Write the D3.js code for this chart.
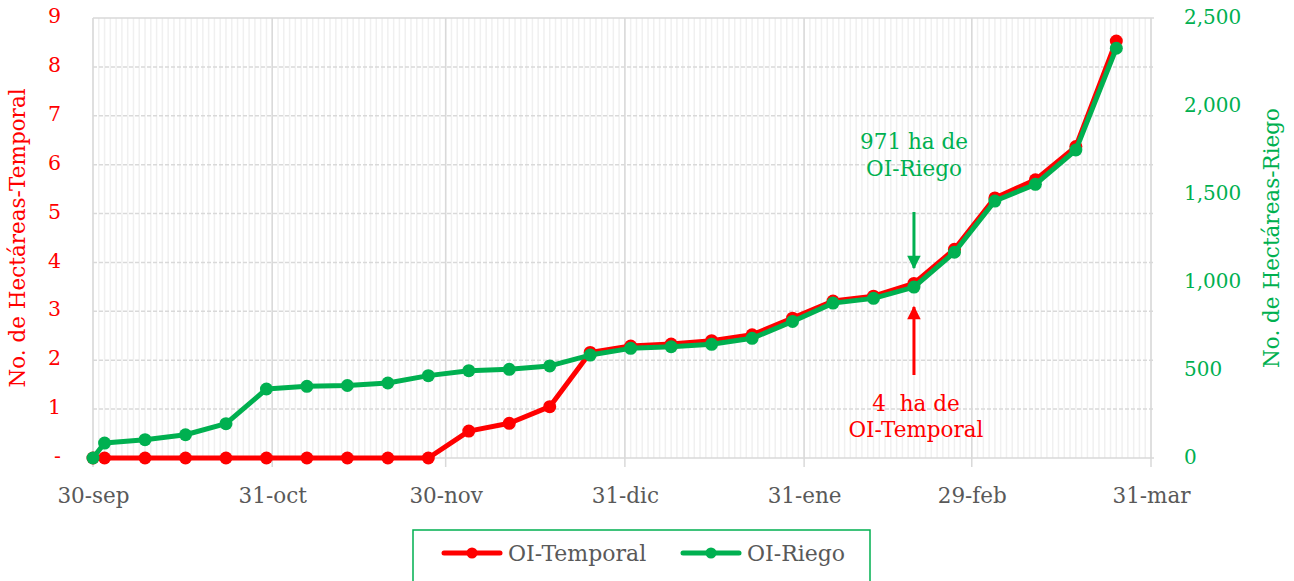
<!DOCTYPE html>
<html>
<head>
<meta charset="utf-8">
<script src="https://cdn.jsdelivr.net/npm/d3@7"></script>
<style>
  body { margin: 0; background: #fff; }
  svg { display: block; font-family: "DejaVu Serif", serif; }
</style>
</head>
<body>
<div id="chart"></div>
<script>
const svgWidth = 1294;
const svgHeight = 581;
const margin = { top: 18, right: 143, bottom: 123, left: 93 };

// weekly report dates
const dates = [
  "2023-09-30", "2023-10-02", "2023-10-09", "2023-10-16", "2023-10-23", "2023-10-30",
  "2023-11-06", "2023-11-13", "2023-11-20", "2023-11-27", "2023-12-04", "2023-12-11",
  "2023-12-18", "2023-12-25", "2024-01-01", "2024-01-08", "2024-01-15", "2024-01-22",
  "2024-01-29", "2024-02-05", "2024-02-12", "2024-02-19", "2024-02-26", "2024-03-04",
  "2024-03-11", "2024-03-18", "2024-03-25"
];
const temporal = [
  0, 0, 0, 0, 0, 0, 0, 0, 0, 0, 0.55, 0.71, 1.05, 2.16, 2.29, 2.33, 2.40, 2.52,
  2.86, 3.21, 3.31, 3.57, 4.27, 5.32, 5.69, 6.37, 8.53
];
const riego = [
  0, 85, 104, 132, 195, 392, 407, 412, 426, 468, 496, 504, 523, 585, 623, 632, 646, 680,
  776, 880, 907, 971, 1169, 1460, 1555, 1750, 2328
];
const monthTicks = ["2023-09-30", "2023-10-31", "2023-11-30", "2023-12-31", "2024-01-31", "2024-02-29", "2024-03-31"];
const monthLabels = ["30-sep", "31-oct", "30-nov", "31-dic", "31-ene", "29-feb", "31-mar"];
const leftTicks = [0, 1, 2, 3, 4, 5, 6, 7, 8, 9];
const rightTicks = [0, 500, 1000, 1500, 2000, 2500];

const RED = "#FF0000";
const GREEN = "#00B050";
const GRAY_TEXT = "#595959";
const parse = d3.timeParse("%Y-%m-%d");

const svg = d3.select("#chart")
  .append("svg")
  .attr("width", svgWidth)
  .attr("height", svgHeight);

const x = d3.scaleTime()
  .domain([parse("2023-09-30"), parse("2024-03-31")])
  .range([margin.left, svgWidth - margin.right]);

const yL = d3.scaleLinear().domain([0, 9]).range([svgHeight - margin.bottom, margin.top]);
const yR = d3.scaleLinear().domain([0, 2500]).range([svgHeight - margin.bottom, margin.top]);

const plotBottom = yL(0);
const plotTop = yL(9);

// minor daily gridlines
const days = d3.timeDay.range(parse("2023-09-30"), d3.timeDay.offset(parse("2024-03-31"), 1));
svg.append("g")
  .selectAll("line")
  .data(days)
  .join("line")
  .attr("x1", d => x(d)).attr("x2", d => x(d))
  .attr("y1", plotTop).attr("y2", plotBottom)
  .attr("stroke", "#F0F0F0")
  .attr("stroke-width", 1.5);

// horizontal gridlines
svg.append("g")
  .selectAll("line")
  .data(leftTicks)
  .join("line")
  .attr("x1", x.range()[0]).attr("x2", x.range()[1] + 3)
  .attr("y1", d => yL(d)).attr("y2", d => yL(d))
  .attr("stroke", "#D9D9D9")
  .attr("stroke-width", 1.5)
  .attr("stroke-dasharray", d => (d === 0 || d === 9) ? null : "4,2");

// major month gridlines + ticks
svg.append("g")
  .selectAll("line")
  .data(monthTicks.map(parse))
  .join("line")
  .attr("x1", d => x(d)).attr("x2", d => x(d))
  .attr("y1", plotTop).attr("y2", plotBottom + 9)
  .attr("stroke", "#D9D9D9")
  .attr("stroke-width", 1.5);

// axes
const xAxis = svg.append("g")
  .attr("transform", `translate(0, ${plotBottom})`)
  .call(d3.axisBottom(x)
    .tickValues(monthTicks.map(parse))
    .tickFormat((d, i) => monthLabels[i])
    .tickSize(0)
    .tickPadding(30));
xAxis.select(".domain").remove();
xAxis.selectAll("text")
  .attr("fill", GRAY_TEXT)
  .style("font-size", "21.5px")
  .style("font-family", "DejaVu Serif");

const leftAxis = svg.append("g")
  .attr("transform", `translate(61, -2)`)
  .call(d3.axisLeft(yL)
    .tickValues(leftTicks)
    .tickFormat(d => d === 0 ? "-" : d)
    .tickSize(0)
    .tickPadding(0));
leftAxis.select(".domain").remove();
leftAxis.selectAll("text")
  .attr("fill", RED)
  .style("font-size", "20.5px")
  .style("font-family", "DejaVu Serif");

const rightAxis = svg.append("g")
  .attr("transform", `translate(1184, -1)`)
  .call(d3.axisRight(yR)
    .tickValues(rightTicks)
    .tickFormat(d3.format(","))
    .tickSize(0)
    .tickPadding(0));
rightAxis.select(".domain").remove();
rightAxis.selectAll("text")
  .attr("fill", GREEN)
  .style("font-size", "20px")
  .style("font-family", "DejaVu Serif");

// axis titles
const midY = (plotTop + plotBottom) / 2;
svg.append("text")
  .attr("transform", `translate(25, ${midY}) rotate(-90)`)
  .attr("text-anchor", "middle")
  .attr("fill", RED)
  .style("font-size", "21.5px")
  .text("No. de Hectáreas-Temporal");

svg.append("text")
  .attr("transform", `translate(1279, ${midY}) rotate(-90)`)
  .attr("text-anchor", "middle")
  .attr("fill", GREEN)
  .style("font-size", "21.5px")
  .text("No. de Hectáreas-Riego");

// series
const series = [
  { name: "OI-Temporal", color: RED, values: temporal, y: yL },
  { name: "OI-Riego", color: GREEN, values: riego, y: yR }
];

series.forEach(s => {
  const pts = dates.map((d, i) => ({ date: parse(d), value: s.values[i] }));
  const line = d3.line().x(d => x(d.date)).y(d => s.y(d.value));
  const g = svg.append("g");
  g.append("path")
    .datum(pts)
    .attr("d", line)
    .attr("fill", "none")
    .attr("stroke", s.color)
    .attr("stroke-width", 5)
    .attr("stroke-linejoin", "round");
  g.selectAll("circle")
    .data(pts)
    .join("circle")
    .attr("cx", d => x(d.date))
    .attr("cy", d => s.y(d.value))
    .attr("r", 6.5)
    .attr("fill", s.color);
});

// annotations
const annX = x(parse("2024-02-19"));
const defs = svg.append("defs");
[["arrG", GREEN], ["arrR", RED]].forEach(([id, c]) => {
  defs.append("marker")
    .attr("id", id)
    .attr("viewBox", "0 0 10 10")
    .attr("refX", 9).attr("refY", 5)
    .attr("markerWidth", 5.5).attr("markerHeight", 4.5)
    .attr("markerUnits", "strokeWidth")
    .attr("orient", "auto")
    .append("path")
    .attr("d", "M0,0 L10,5 L0,10 Z")
    .attr("fill", c);
});

svg.append("line")
  .attr("x1", annX).attr("x2", annX)
  .attr("y1", 212).attr("y2", 268)
  .attr("stroke", GREEN).attr("stroke-width", 3)
  .attr("marker-end", "url(#arrG)");

svg.append("line")
  .attr("x1", annX).attr("x2", annX)
  .attr("y1", 375).attr("y2", 307)
  .attr("stroke", RED).attr("stroke-width", 3)
  .attr("marker-end", "url(#arrR)");

const greenNote = svg.append("text")
  .attr("text-anchor", "middle")
  .attr("fill", GREEN)
  .style("font-size", "21.5px");
greenNote.append("tspan").attr("x", annX).attr("y", 149).text("971 ha de");
greenNote.append("tspan").attr("x", annX).attr("y", 176).text("OI-Riego");

const redNote = svg.append("text")
  .attr("text-anchor", "middle")
  .attr("fill", RED)
  .style("font-size", "21.5px")
  .style("white-space", "pre");
redNote.append("tspan").attr("x", annX + 2).attr("y", 411).text("4  ha de");
redNote.append("tspan").attr("x", annX + 2).attr("y", 437).text("OI-Temporal");

// legend
const legend = svg.append("g");
legend.append("rect")
  .attr("x", 413).attr("y", 530)
  .attr("width", 457).attr("height", 70)
  .attr("fill", "#fff")
  .attr("stroke", GREEN)
  .attr("stroke-width", 1.5);

const legendX = [444, 683];
series.forEach((s, i) => {
  const g = legend.append("g").attr("transform", `translate(${legendX[i]}, 553)`);
  g.append("line")
    .attr("x1", 0).attr("x2", 56)
    .attr("stroke", s.color).attr("stroke-width", 5)
    .attr("stroke-linecap", "round");
  g.append("circle").attr("cx", 28).attr("r", 5.5).attr("fill", s.color);
  g.append("text")
    .attr("x", 64).attr("y", 8)
    .attr("fill", GRAY_TEXT)
    .style("font-size", "22px")
    .text(s.name);
});
</script>
</body>
</html>
